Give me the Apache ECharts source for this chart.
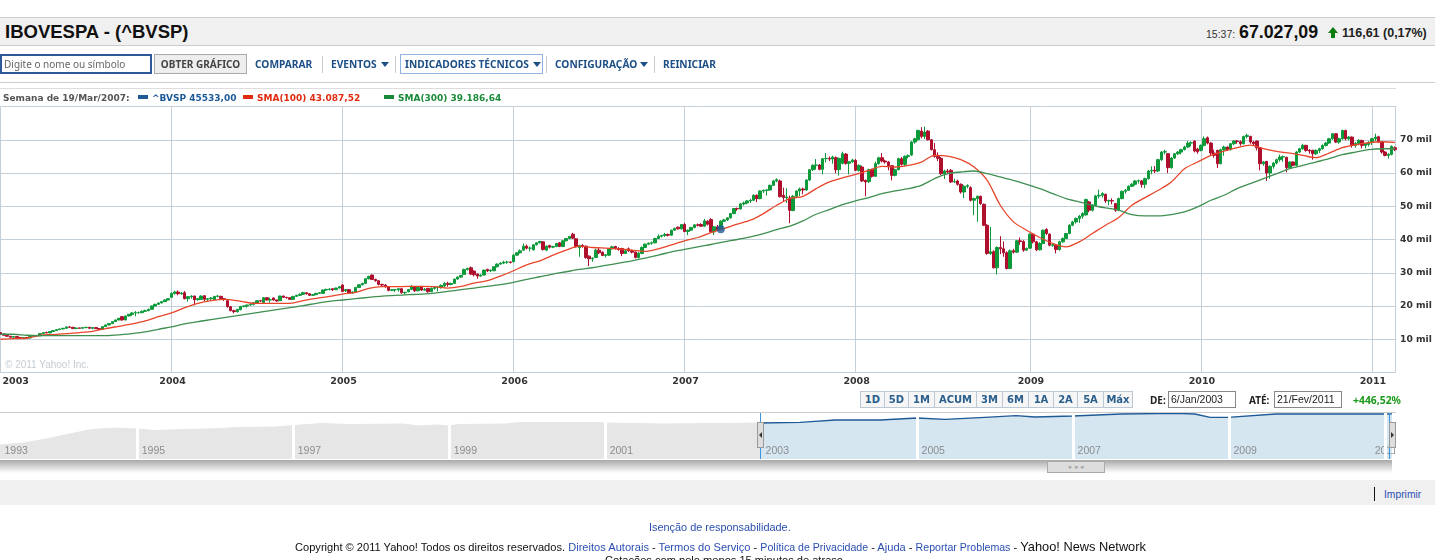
<!DOCTYPE html>
<html>
<head>
<meta charset="utf-8">
<title>IBOVESPA</title>
<script src="https://cdn.jsdelivr.net/npm/echarts@6/dist/echarts.min.js"></script>
<style>
  html, body { margin: 0; padding: 0; width: 1435px; height: 560px; overflow: hidden; background: #fff; }
  #chart { position: absolute; left: 0; top: 0; width: 1435px; height: 560px; }
  .b { position: absolute; box-sizing: border-box; }
  .t { position: absolute; white-space: nowrap; font-family: "Liberation Sans", sans-serif; }
  .nav { font: bold 10.2px "Noto Sans", sans-serif; color: #1d4f87; top: 58px; line-height: 13px; }
  .lg { font: bold 9px "DejaVu Sans", sans-serif; top: 92px; line-height: 13px; }
  .tri { position: absolute; width: 0; height: 0; border-left: 4px solid transparent; border-right: 4px solid transparent; border-top: 5px solid #1d4f87; top: 62px; }
  .sep { position: absolute; width: 1px; background: #ccc; top: 56px; height: 17px; }
  .rng { position: absolute; box-sizing: border-box; top: 391px; height: 17px; text-align: center; font: bold 10px/15px "DejaVu Sans", sans-serif; color: #2a5e8c; background: #f6f6f6; border: 1px solid #bcc8d4; }
  .inp { position: absolute; box-sizing: border-box; top: 391px; height: 17px; width: 68px; border: 1px solid #888; font: 10.5px/15px "Liberation Sans", sans-serif; padding-left: 2px; color: #222; }
  .foot { font-size: 10.9px; color: #2a4fb0; line-height: 13px; }
</style>
</head>
<body>
<div id="chart"></div>

<div class="b" style="left:0;top:17px;width:1435px;height:29px;background:#f0f0f0;border-top:1px solid #ccc;border-bottom:1px solid #ccc"></div>
<div class="t" style="left:5px;top:22px;font-size:18.5px;font-weight:bold;color:#111;line-height:20px">IBOVESPA - (^BVSP)</div>
<div class="t" style="left:1206px;top:28px;font-size:10.5px;color:#333;line-height:12px">15:37:</div>
<div class="t" style="left:1239px;top:23px;font-size:17.8px;font-weight:bold;color:#111;line-height:18px">67.027,09</div>
<div class="b" style="left:1328px;top:27px;width:0;height:0;border-left:5px solid transparent;border-right:5px solid transparent;border-bottom:6px solid #0a7d10"></div>
<div class="b" style="left:1331px;top:33px;width:4px;height:5px;background:#0a7d10"></div>
<div class="t" style="left:1342px;top:26px;font-size:12.5px;font-weight:bold;color:#222;line-height:14px">116,61 (0,17%)</div>

<div class="b" style="left:0;top:54px;width:152px;height:20px;border:2px solid #2f5a9a"></div>
<div class="t" style="left:4px;top:58px;font:10px/13px 'Noto Sans',sans-serif;color:#666">Digite o nome ou símbolo</div>
<div class="b" style="left:154px;top:54px;width:93px;height:20px;border:1px solid #aaa;background:#eee;text-align:center;font:bold 10px/18px 'Noto Sans',sans-serif;color:#444">OBTER GRÁFICO</div>
<div class="t nav" style="left:255px">COMPARAR</div>
<div class="sep" style="left:322px"></div>
<div class="t nav" style="left:331px">EVENTOS</div><div class="tri" style="left:381px"></div>
<div class="sep" style="left:395px"></div>
<div class="b" style="left:400px;top:54px;width:143px;height:20px;border:1px solid #8fb4e0"></div>
<div class="t nav" style="left:405px">INDICADORES TÉCNICOS</div><div class="tri" style="left:533px"></div>
<div class="sep" style="left:546px"></div>
<div class="t nav" style="left:555px">CONFIGURAÇÃO</div><div class="tri" style="left:640px"></div>
<div class="sep" style="left:654px"></div>
<div class="t nav" style="left:663px">REINICIAR</div>
<div class="b" style="left:0;top:82px;width:1435px;height:1px;background:#ccc"></div>

<div class="b" style="left:0;top:88px;width:1396px;height:1px;background:#ddd"></div>
<div class="t lg" style="left:3px;color:#555">Semana de 19/Mar/2007:</div>
<div class="b" style="left:138px;top:95px;width:10px;height:4px;background:#1d5a96"></div>
<div class="t lg" style="left:152px;color:#1d5a96">^BVSP 45533,00</div>
<div class="b" style="left:243px;top:95px;width:10px;height:4px;background:#e02a10"></div>
<div class="t lg" style="left:257px;color:#e02a10">SMA(100) 43.087,52</div>
<div class="b" style="left:384px;top:95px;width:10px;height:4px;background:#1a8a3a"></div>
<div class="t lg" style="left:398px;color:#1a8a3a">SMA(300) 39.186,64</div>
<div class="t" style="left:5px;top:359px;font-size:10px;color:#c4ccd2;line-height:12px">© 2011 Yahoo! Inc.</div>

<div class="rng" style="left:860px;width:25px">1D</div>
<div class="rng" style="left:884px;width:25px">5D</div>
<div class="rng" style="left:908px;width:27px">1M</div>
<div class="rng" style="left:934px;width:43px">ACUM</div>
<div class="rng" style="left:976px;width:27px">3M</div>
<div class="rng" style="left:1002px;width:27px">6M</div>
<div class="rng" style="left:1028px;width:26px">1A</div>
<div class="rng" style="left:1053px;width:25px">2A</div>
<div class="rng" style="left:1077px;width:27px">5A</div>
<div class="rng" style="left:1103px;width:30px">Máx</div>
<div class="t" style="left:1150px;top:394px;font:bold 10px/12px 'Noto Sans',sans-serif;color:#222">DE:</div>
<div class="inp" style="left:1168px">6/Jan/2003</div>
<div class="t" style="left:1249px;top:394px;font:bold 10px/12px 'Noto Sans',sans-serif;color:#222">ATÉ:</div>
<div class="inp" style="left:1274px">21/Fev/2011</div>
<div class="t" style="left:1353px;top:394px;font:bold 10.4px/12px 'Noto Sans',sans-serif;color:#1a9a1a">+446,52%</div>

<div class="b" style="left:0;top:412px;width:1396px;height:1px;background:#ccc"></div>
<div class="b" style="left:1395px;top:413px;width:40px;height:47px;background:#fff"></div>
<div class="b" style="left:757px;top:422px;width:7px;height:26px;background:#ddd;border:1px solid #999"></div>
<div class="b" style="left:759px;top:432px;width:0;height:0;border-top:3px solid transparent;border-bottom:3px solid transparent;border-right:3px solid #333"></div>
<div class="b" style="left:1389px;top:422px;width:7px;height:26px;background:#ddd;border:1px solid #999"></div>
<div class="b" style="left:1391px;top:432px;width:0;height:0;border-top:3px solid transparent;border-bottom:3px solid transparent;border-left:3px solid #333"></div>
<div class="b" style="left:0;top:460px;width:1392px;height:13px;background:linear-gradient(#a8a8a8,#fff)"></div>
<div class="b" style="left:1047px;top:461px;width:58px;height:12px;background:#ddd;border:1px solid #aaa;text-align:center;font:7px/10px 'Liberation Sans',sans-serif;color:#aaa">● ● ●</div>

<div class="b" style="left:0;top:480px;width:1435px;height:25px;background:#f0f0f0"></div>
<div class="b" style="left:1374px;top:487px;width:1px;height:14px;background:#111"></div>
<div class="t foot" style="left:1384px;top:488px;font-size:10.3px">Imprimir</div>
<div class="t foot" style="left:649px;top:521px">Isenção de responsabilidade.</div>
<div class="t foot" style="left:295px;top:540px;color:#111;font-size:11.1px">Copyright © 2011 Yahoo! Todos os direitos reservados. <span style="color:#2a4fb0">Direitos Autorais</span> - <span style="color:#2a4fb0">Termos do Serviço</span> - <span style="color:#2a4fb0;font-size:10.6px">Política de Privacidade</span> - <span style="color:#2a4fb0">Ajuda</span> - <span style="color:#2a4fb0;font-size:10.6px">Reportar Problemas</span> - <span style="font-size:12.8px">Yahoo! News Network</span></div>
<div class="t foot" style="left:605px;top:554px;color:#111;font-size:11.1px">Cotações com pelo menos 15 minutos de atraso.</div>

<script>
// weekly candles, [open, close, low, high] in thousands of points
const candles2003 = [[12.0,11.6,11.4,12.1],[11.6,11.2,11.1,11.7],[11.2,10.9,10.8,11.3],[10.9,10.6,10.5,11.0],[10.6,10.8,10.4,10.9],[10.8,10.5,10.4,10.9],[10.5,10.3,10.2,10.6],[10.3,10.5,10.2,10.6],[10.5,10.4,10.3,10.7],[10.4,10.9,10.3,11.0],[10.9,11.1,10.8,11.2],[11.1,11.0,10.9,11.3],[11.0,11.7,11.0,11.9],[11.7,12.0,11.6,12.2],[12.0,11.9,11.8,12.3],[11.9,12.3,11.9,12.4],[12.3,12.6,12.2,12.7],[12.6,12.9,12.5,13.0],[12.9,13.1,12.8,13.2],[13.1,13.3,13.0,13.4],[13.3,13.7,13.2,13.8],[13.7,13.6,13.4,13.9],[13.6,13.2,13.1,13.7],[13.2,13.4,13.1,13.5],[13.4,13.3,13.2,13.5],[13.3,13.5,13.2,13.6],[13.5,13.6,13.3,13.7],[13.6,13.3,13.2,13.7],[13.3,13.5,13.0,13.6],[13.5,13.2,13.1,13.6],[13.2,13.0,12.9,13.3],[13.0,13.8,12.9,13.9],[13.8,14.3,13.7,14.4],[14.3,14.7,14.2,14.8],[14.7,15.3,14.6,15.4],[15.3,15.8,15.2,15.9],[15.8,16.3,15.7,16.4],[16.8,15.8,15.6,17.0],[15.8,17.0,15.7,17.1],[17.0,17.5,16.9,17.6],[17.5,17.9,17.0,18.2],[17.9,18.0,16.9,18.5],[18.0,18.0,17.6,18.3],[18.0,18.4,17.8,18.6],[18.4,18.6,18.2,18.9],[18.6,19.0,18.4,19.2],[19.0,20.0,18.9,20.1],[20.0,20.5,19.9,20.7],[20.5,20.9,20.4,21.1],[20.9,21.3,20.8,21.5],[21.3,21.8,21.2,22.0],[21.8,22.2,21.7,22.4]];
const candles2004 = [[22.6,23.8,22.4,24.1],[23.8,24.2,23.4,24.6],[24.2,23.7,23.2,24.7],[23.7,23.9,23.3,24.2],[24.0,22.2,22.0,24.5],[22.2,22.8,21.3,23.0],[22.8,23.0,22.2,23.2],[23.0,21.9,20.2,23.1],[21.9,22.2,21.6,22.4],[22.0,23.0,21.8,23.2],[23.1,22.0,21.5,23.2],[22.0,22.2,21.3,22.4],[22.2,22.4,21.6,22.7],[21.9,22.9,21.8,23.0],[22.9,23.0,22.6,23.3],[22.9,22.2,21.9,23.1],[22.2,22.0,21.5,22.4],[21.6,19.8,19.5,21.8],[19.8,18.6,18.4,20.0],[18.6,18.3,17.8,18.9],[18.3,19.0,18.0,19.1],[18.9,19.9,18.7,20.0],[19.9,20.0,19.6,20.2],[20.0,20.3,19.5,20.4],[20.3,20.5,20.1,20.7],[20.5,21.0,20.2,21.2],[20.8,21.6,20.6,21.7],[21.6,21.5,21.2,21.8],[21.0,22.5,20.9,22.7],[22.5,21.8,21.6,22.6],[21.8,21.9,21.0,22.5],[22.4,21.8,21.6,22.6],[21.8,21.5,21.3,21.9],[21.6,23.0,21.5,23.1],[23.0,22.6,22.4,23.1],[22.6,22.5,22.2,22.8],[22.5,22.0,21.9,22.6],[22.0,22.9,21.8,23.0],[22.9,23.2,22.8,23.4],[23.2,23.5,23.0,23.8],[23.5,24.0,23.3,24.3],[24.0,23.7,23.4,24.2],[23.7,23.2,23.0,23.8],[23.2,23.4,23.0,23.6],[23.4,23.8,23.3,24.0],[23.8,24.0,23.6,24.1],[23.8,24.8,23.7,25.0],[24.8,25.0,24.6,25.2],[25.0,25.1,24.7,25.3],[25.2,24.9,24.5,25.4],[24.9,25.4,24.8,25.5],[25.4,25.8,25.3,25.9]];
const candles2005 = [[26.3,24.4,24.2,26.6],[24.6,24.9,24.2,25.0],[24.9,23.9,23.6,25.1],[23.9,24.2,23.7,24.4],[24.2,25.6,24.1,25.7],[25.6,26.4,25.5,26.5],[26.4,26.8,26.2,27.0],[26.8,28.2,26.6,28.4],[28.2,28.9,28.0,29.1],[29.3,28.0,27.8,29.5],[28.0,27.6,27.3,28.2],[27.6,26.5,26.2,27.8],[26.5,26.3,25.8,26.7],[26.3,25.8,25.5,26.6],[25.8,24.7,24.4,26.0],[24.7,24.9,24.5,25.0],[24.9,24.9,24.2,25.1],[24.9,25.2,24.3,25.3],[25.2,24.0,23.7,25.4],[24.0,24.1,23.5,24.3],[24.3,25.0,24.1,25.1],[25.0,25.8,24.8,26.3],[25.8,24.6,24.2,26.0],[24.6,25.6,24.4,25.8],[25.9,24.8,24.5,26.0],[24.8,25.0,24.6,25.4],[25.3,24.3,24.0,25.4],[24.3,25.3,24.2,25.6],[25.3,25.6,24.9,25.9],[25.6,25.6,24.4,26.0],[25.6,26.2,25.2,26.5],[26.0,26.8,25.6,27.2],[26.8,26.5,25.8,27.3],[26.5,26.8,26.2,27.0],[26.8,28.1,26.6,28.2],[28.1,28.7,27.9,28.9],[28.7,29.2,28.4,29.4],[29.5,31.0,29.3,31.2],[31.0,31.3,30.7,31.5],[31.5,29.6,29.3,31.9],[30.5,29.4,28.9,30.7],[29.6,29.0,28.2,29.8],[29.0,29.3,28.8,29.5],[29.3,30.8,29.2,30.9],[31.0,30.6,30.2,31.2],[30.6,30.8,30.2,31.0],[30.6,31.8,30.5,31.9],[31.8,32.6,31.6,32.8],[32.6,32.9,32.4,33.1],[32.9,33.2,32.6,33.6],[33.2,33.2,32.7,33.6],[33.2,33.1,32.8,33.5]];
const candles2006 = [[33.3,35.3,33.1,35.6],[35.3,36.0,35.1,36.1],[36.0,36.6,35.8,37.0],[36.8,38.0,36.6,38.8],[38.0,37.4,37.0,38.5],[37.4,37.4,36.4,37.9],[36.9,38.4,36.7,38.6],[38.4,39.0,38.2,39.2],[39.0,39.4,38.8,39.6],[39.3,37.0,36.7,39.5],[36.8,38.0,36.5,38.2],[38.2,37.7,37.3,38.4],[37.7,37.9,37.4,38.1],[37.9,38.8,37.7,39.0],[39.0,37.9,37.7,39.2],[37.9,39.6,37.7,39.8],[39.6,40.3,39.4,40.4],[40.3,40.9,40.1,41.1],[41.6,40.4,40.2,42.0],[40.2,37.8,37.6,40.4],[37.5,38.2,34.8,38.4],[38.2,38.0,37.5,38.6],[38.0,34.6,34.2,38.2],[35.0,34.2,32.0,35.2],[34.2,34.4,33.3,34.6],[34.6,36.8,34.4,37.2],[36.8,36.0,35.6,37.6],[36.2,35.2,35.0,36.4],[35.2,35.4,34.6,35.6],[35.3,37.2,35.1,37.3],[37.2,37.8,37.0,38.1],[37.9,37.2,37.0,38.1],[37.2,37.0,36.6,37.7],[37.3,35.8,35.0,37.5],[35.8,36.6,35.6,36.8],[37.2,36.6,36.3,37.6],[36.6,36.2,35.8,36.9],[36.2,34.6,34.3,36.4],[34.6,35.9,34.3,36.2],[35.8,37.6,35.6,37.9],[37.6,38.6,37.4,38.8],[38.6,38.9,38.3,39.1],[38.9,39.0,38.4,39.4],[39.0,40.3,38.8,40.5],[40.3,41.0,40.1,41.5],[41.0,41.2,40.6,41.4],[41.2,41.5,40.8,42.0],[41.5,41.3,40.9,41.8],[41.3,42.8,41.1,43.0],[42.8,43.3,42.6,43.6],[43.7,43.2,43.0,43.9],[43.2,44.5,43.0,44.6]];
const candles2007 = [[44.5,42.4,42.2,45.0],[42.4,42.8,41.3,43.0],[42.8,43.6,42.6,43.8],[43.6,44.4,43.4,44.6],[44.4,44.3,43.9,44.8],[44.5,44.0,43.8,44.9],[44.0,45.6,43.9,46.2],[45.5,44.6,44.2,45.8],[46.0,42.3,42.0,46.4],[42.3,43.8,41.4,44.0],[43.8,42.9,42.6,44.4],[43.2,45.5,43.0,45.8],[45.5,45.9,45.3,46.2],[45.9,46.5,45.6,46.7],[46.5,47.8,46.3,48.0],[47.8,49.3,47.6,49.4],[49.3,49.2,48.6,49.6],[49.2,50.7,49.0,51.0],[50.7,51.0,50.2,51.4],[51.0,51.6,50.6,51.9],[51.6,51.8,51.0,52.2],[51.8,53.3,51.6,53.6],[53.3,52.3,51.2,53.5],[52.3,54.6,52.1,54.8],[54.6,54.8,54.0,55.0],[54.8,54.9,53.2,55.0],[54.9,56.3,54.7,56.5],[56.3,57.6,56.1,57.9],[57.6,58.0,57.2,58.4],[57.6,52.9,52.6,58.0],[53.3,52.6,51.5,55.6],[52.6,52.8,51.0,55.4],[52.5,48.8,44.9,53.2],[48.7,53.0,48.5,53.4],[53.0,54.6,52.8,54.8],[54.6,55.2,53.0,55.6],[55.2,54.9,53.6,55.6],[54.9,57.9,54.6,58.1],[57.9,61.0,57.6,61.2],[61.0,62.3,60.6,62.6],[62.3,62.4,61.0,64.2],[62.4,61.1,60.8,62.7],[61.1,64.3,59.6,64.5],[64.3,64.4,63.2,66.0],[64.4,64.2,63.6,65.0],[64.2,64.8,62.8,65.2],[64.6,61.0,59.9,65.0],[61.0,64.4,59.2,64.6],[62.9,65.8,62.6,66.4],[65.7,62.9,62.5,66.0],[62.9,63.4,59.6,63.6],[63.4,63.9,63.0,64.3]];
const candles2008 = [[63.8,60.8,60.6,64.2],[60.8,62.3,60.4,62.6],[61.8,57.6,57.3,62.2],[57.8,57.3,53.0,58.0],[57.4,61.0,57.0,61.3],[61.0,59.0,58.6,61.3],[59.0,62.8,58.8,63.4],[62.8,64.6,62.5,64.9],[64.6,63.6,63.2,66.0],[63.6,63.3,62.8,64.0],[63.3,62.2,60.8,63.6],[62.2,59.3,57.8,62.4],[59.3,61.0,59.0,61.3],[61.0,64.3,60.8,64.6],[64.3,62.6,62.2,64.8],[62.6,65.0,62.0,65.3],[65.0,65.2,64.4,65.6],[65.4,69.3,65.2,69.6],[69.3,70.3,68.8,70.6],[70.0,72.8,69.8,73.0],[72.6,71.0,70.4,73.8],[71.0,72.3,70.2,74.0],[72.6,70.0,69.8,72.9],[70.0,67.0,66.8,70.2],[67.0,65.0,64.6,69.0],[65.0,64.4,63.6,66.2],[64.4,59.8,59.4,64.8],[59.8,60.6,58.2,61.0],[60.6,60.3,59.6,61.2],[60.8,57.3,57.0,61.2],[57.3,57.4,57.0,58.3],[57.6,56.6,56.2,58.0],[56.6,54.3,53.8,56.9],[54.3,56.0,52.4,56.3],[56.0,56.2,55.4,56.6],[55.6,51.8,51.4,56.0],[51.8,52.3,47.3,52.6],[52.3,53.0,45.3,53.2],[53.0,50.8,50.4,53.2],[50.6,44.3,44.0,50.8],[44.3,35.8,35.4,44.6],[35.8,36.3,35.4,43.8],[36.3,31.5,31.3,36.8],[31.5,37.6,29.5,37.9],[37.6,37.2,35.6,41.0],[37.2,36.0,34.8,39.4],[36.0,31.3,31.0,36.4],[31.3,36.6,31.1,37.0],[36.6,36.2,35.8,37.2],[36.2,39.6,36.0,39.8],[39.6,39.4,38.4,40.6],[39.4,36.8,36.3,39.8],[36.8,37.3,36.6,37.6]];
const candles2009 = [[37.4,41.6,37.2,41.9],[41.6,39.3,38.8,41.9],[39.3,36.9,36.5,39.6],[36.9,38.8,36.7,39.2],[38.8,42.8,38.6,43.0],[43.0,41.8,41.3,43.4],[41.6,38.3,37.9,41.9],[38.3,38.4,37.8,38.9],[38.3,37.0,35.8,38.5],[37.0,39.3,36.6,39.6],[39.3,40.3,39.0,40.6],[40.3,41.8,40.1,42.0],[41.8,44.3,41.6,44.6],[44.3,45.3,44.0,45.6],[45.3,46.3,44.8,46.6],[46.3,47.0,45.0,47.4],[47.0,47.8,46.3,48.2],[47.4,52.0,47.2,52.3],[51.3,48.8,48.2,51.6],[48.8,50.3,48.4,50.6],[50.3,53.1,50.0,53.4],[53.1,53.3,52.4,55.0],[53.3,53.8,52.6,54.2],[53.6,51.6,51.0,53.8],[51.6,51.7,50.3,52.0],[51.7,51.6,50.6,52.4],[50.8,48.8,48.3,51.0],[48.8,52.3,48.5,52.6],[52.3,54.5,52.1,54.7],[54.5,54.8,53.8,55.2],[54.8,56.0,54.6,56.3],[56.0,56.6,55.8,57.0],[56.6,57.6,56.2,57.9],[57.6,57.7,56.8,58.0],[57.6,56.6,55.6,57.9],[56.6,58.3,55.4,58.6],[58.3,60.6,58.0,60.9],[60.6,60.8,59.6,62.0],[60.8,60.6,60.0,62.1],[60.6,64.0,60.3,64.3],[64.0,66.3,63.6,66.6],[66.3,66.4,65.6,67.0],[65.8,61.6,60.0,66.0],[61.6,64.5,61.3,64.8],[64.5,65.8,64.2,66.0],[65.8,66.3,65.4,66.6],[66.3,67.0,65.6,67.3],[67.0,67.8,66.8,68.2],[67.8,69.0,67.5,69.6],[69.0,69.1,68.0,69.5],[69.6,66.6,66.2,69.8],[67.2,66.4,65.8,67.6]];
const candles2010 = [[66.8,68.3,66.5,68.6],[68.3,70.3,68.0,71.0],[70.6,69.0,68.6,71.0],[69.0,66.0,65.2,69.3],[66.0,65.3,64.6,67.0],[66.8,62.8,61.5,67.0],[62.8,67.0,62.6,67.3],[67.0,67.8,65.2,68.2],[67.8,67.0,66.6,68.0],[67.0,68.8,66.8,69.0],[68.8,69.6,68.4,69.9],[69.6,69.5,68.8,69.9],[69.4,68.8,68.2,69.8],[68.8,71.0,68.6,71.2],[71.0,71.3,70.4,71.8],[71.0,69.3,68.8,71.2],[69.3,68.8,68.2,69.6],[69.6,67.6,66.8,69.8],[67.6,62.8,60.8,67.8],[62.8,63.3,62.2,63.6],[63.5,60.0,57.6,63.6],[60.0,62.0,58.3,62.3],[62.0,63.0,61.3,63.3],[63.0,64.0,62.6,64.3],[64.0,64.8,63.4,65.5],[64.8,64.9,63.4,65.2],[64.7,61.6,60.2,64.9],[61.6,63.3,61.2,63.5],[63.3,62.3,62.0,63.5],[62.3,66.3,62.0,66.6],[66.3,67.3,66.0,67.6],[67.3,68.3,67.0,68.8],[68.3,66.8,66.4,68.5],[66.8,66.6,65.8,67.2],[66.8,65.8,64.0,67.0],[65.8,66.8,65.4,67.1],[66.8,67.3,66.0,67.6],[67.3,68.3,67.0,68.6],[68.3,69.0,68.0,69.3],[69.0,70.3,68.8,70.6],[70.3,71.8,70.0,72.0],[71.8,69.3,69.0,72.0],[69.3,70.3,68.8,70.6],[70.3,72.8,70.0,73.0],[72.8,70.3,69.8,73.0],[70.3,70.8,69.8,71.1],[70.8,68.3,67.6,71.0],[68.3,68.9,67.6,69.3],[68.9,69.8,68.3,70.2],[69.8,68.3,67.4,70.0],[68.3,68.8,67.4,69.0],[68.6,69.2,68.0,69.6]];
const candles2011 = [[69.2,70.3,68.4,70.6],[70.3,70.8,69.6,71.8],[70.9,69.3,69.0,71.2],[69.3,66.3,65.8,69.5],[66.3,65.3,65.0,66.6],[65.3,65.6,64.3,66.0],[65.6,68.0,65.3,68.3],[67.6,67.0,66.6,68.0]];
const yearLabels = ['2003', '2004', '2005', '2006', '2007', '2008', '2009', '2010', '2011'];
const candlesByYear = [candles2003, candles2004, candles2005, candles2006, candles2007, candles2008, candles2009, candles2010, candles2011];

// moving averages, read every 4th week, in thousands
const smaStep = 4;
const sma100 = [10,10.2,10.3,11.2,11.4,11.7,12,12.4,13.2,13.9,14.6,15.5,16.8,17.9,19.5,20.8,21.6,22,21.6,20.9,20.8,20.8,20.8,21.6,22.3,22.9,23.6,24.1,25.3,25.8,25.8,25.9,25.9,25.8,25.4,25.9,26.9,27.6,29,30.6,32.4,33.6,35.3,36.8,38,37.6,37.4,37.2,36.8,36.4,37.2,38.4,39.6,40.6,42.1,43.3,44.6,45.8,47.8,50.3,52.3,53,55.3,57.3,58.5,59.6,60.8,62,61.8,62.3,63.3,65.3,65.1,64,61.8,57.8,50.3,45.3,42.8,40.6,38.8,37.8,39.3,41.8,44.3,46.6,50.3,52.6,54.8,57.3,61.3,63.3,65.3,66.6,67.6,68.4,67.3,66.5,66,65.3,64.6,66,67.6,68.5,69.1,69.4,69.2];
const sma300 = [11.5,11.5,11.2,11.1,11.1,11.1,11.1,11.1,11.1,11.3,11.7,12.2,13,13.7,14.6,15.3,15.9,16.5,17.1,17.7,18.3,18.9,19.5,20.1,20.8,21.4,21.8,22.2,22.6,23,23.2,23.4,23.6,23.9,24.4,24.9,25.4,25.9,26.4,27.1,28,28.8,29.6,30.3,31,31.5,32.2,32.9,33.6,34.4,35.3,36.3,37,37.8,38.5,39.3,40,40.8,41.8,43,44,45.6,47.6,49,50.5,51.6,52.6,53.8,54.6,55.3,56.3,58.3,59.8,60.3,60.6,59.8,58.8,57.8,56.6,55.3,53.8,52.3,51.3,50.3,49.5,48.8,47.5,47.1,47.1,47.5,48.3,49.8,51.8,53.3,55.3,56.8,58.3,59.8,61.3,62.3,63.3,64.3,65.5,66.3,67,67.3,67.3];

// highlighted week, 19/Mar/2007
const markerWeek = 219;
const markerValue = 43087.52;

const yAxisMax = 80000;
const yAxisInterval = 10000;

// navigator, year and index level (plotted as log10 of the level)
const navGreyYears = [1993.24,1993.54,1993.83,1994.13,1994.42,1994.72,1994.99,1995.24,1995.6,1995.9,1996.31,1996.77,1997.01,1997.36,1997.72,1998.42,1998.6,1998.83,1998.99,1999.13,1999.72,1999.9,2000.9,2001.01,2001.72,2002.47,2002.99];
const navGreyValues = [129,191,424,1143,2793,3760,3086,2290,2793,3086,4160,4590,6180,9190,7540,8320,5600,6830,5600,7540,8320,11200,11200,10150,8320,9190,10150];
const navBlueYears = [2002.99,2003.5,2003.69,2003.95,2004.53,2005,2005.36,2005.87,2006.27,2006.51,2007,2007.62,2008.32,2008.56,2008.76,2008.99,2009.6,2011.01,2011.09];
const navBlueValues = [10150,11700,14200,18400,18400,27400,21200,31500,43200,33400,40700,60600,69700,60600,31500,31500,60600,60600,61000];
const navWhiteLines = [1995, 1997, 1999, 2001, 2005, 2007, 2009, 2011];
const navRangeLines = [2002.99, 2011.06];
const navLabelTexts = ['1993', '1995', '1997', '1999', '2001', '2003', '2005', '2007', '2009', '2011'];
// the first and last labels sit at the navigator's edges, not on their years
const navLabelYears = [1993.24, 1995, 1997, 1999, 2001, 2003, 2005, 2007, 2009, 2010.81];
const navLabelLevel = 39;
const navMin = 8;
const navMax = 74000;

const candles = candlesByYear.flat().map(c => c.map(v => v * 1000));
const categories = candlesByYear.flatMap((list, y) => list.map((c, i) => i === 0 ? yearLabels[y] : yearLabels[y] + '-' + i));
const smaPoints = list => list.map((v, i) => [i * smaStep, v * 1000]);

const gridColor = '#c3cfd9';

const chart = echarts.init(document.getElementById('chart'));
chart.setOption({
  animation: false,
  grid: [
    { left: 0.5, top: 106.5, width: 1394.5, height: 266, outerBoundsMode: 'none' },
    { left: 0, top: 413, width: 1392, height: 46, outerBoundsMode: 'none' },
  ],
  xAxis: [
    {
      type: 'category',
      data: categories,
      boundaryGap: false,
      containShape: false,
      axisLine: { show: false },
      axisTick: { show: false },
      splitLine: {
        show: true,
        interval: (i, v) => yearLabels.includes(v),
        lineStyle: { color: gridColor, width: 1 },
      },
      axisLabel: {
        interval: (i, v) => yearLabels.includes(v),
        hideOverlap: false,
        alignMinLabel: 'left',
        margin: 4,
        padding: [0, 0, 0, 2],
        color: '#333',
        fontFamily: 'DejaVu Sans',
        fontWeight: 'bold',
        fontSize: 9.5,
      },
    },
    { type: 'value', gridIndex: 1, min: 1993.24, max: 2011.09, show: false, splitLine: { show: false } },
  ],
  yAxis: [
    {
      type: 'value',
      position: 'right',
      min: 0,
      max: yAxisMax,
      interval: yAxisInterval,
      axisLine: { show: true, lineStyle: { color: gridColor } },
      axisTick: { show: false },
      splitLine: { show: true, lineStyle: { color: gridColor, width: 1 } },
      axisLabel: {
        margin: 5,
        color: '#333',
        fontFamily: 'DejaVu Sans',
        fontWeight: 'bold',
        fontSize: 9.2,
        formatter: v => (v === 0 || v === yAxisMax) ? '' : (v / 1000) + ' mil',
      },
    },
    { type: 'value', gridIndex: 1, min: Math.log10(navMin), max: Math.log10(navMax), show: false, splitLine: { show: false } },
  ],
  series: [
    {
      name: '^BVSP',
      type: 'candlestick',
      data: candles,
      barWidth: 3,
      itemStyle: {
        color: '#0c9a3a',
        color0: '#ae0f2d',
        borderColor: '#0c9a3a',
        borderColor0: '#ae0f2d',
        borderWidth: 1,
      },
    },
    {
      name: 'SMA(100)',
      type: 'line',
      data: smaPoints(sma100),
      showSymbol: false,
      smooth: 0.3,
      lineStyle: { color: '#e8452a', width: 1.3 },
    },
    {
      name: 'SMA(300)',
      type: 'line',
      data: smaPoints(sma300),
      showSymbol: false,
      smooth: 0.3,
      lineStyle: { color: '#3f8f50', width: 1.3 },
    },
    {
      name: 'marker',
      type: 'scatter',
      data: [[markerWeek, markerValue]],
      symbolSize: 8,
      z: 10,
      itemStyle: { color: '#1f5a96' },
    },
    {
      name: 'nav-grey',
      type: 'line',
      xAxisIndex: 1,
      yAxisIndex: 1,
      data: navGreyYears.map((y, i) => [y, Math.log10(navGreyValues[i])]),
      showSymbol: false,
      lineStyle: { color: '#e6e6e6', width: 1 },
      areaStyle: { color: '#e6e6e6', origin: 'start', opacity: 1 },
    },
    {
      name: 'nav-blue',
      type: 'line',
      xAxisIndex: 1,
      yAxisIndex: 1,
      data: navBlueYears.map((y, i) => [y, Math.log10(navBlueValues[i])]),
      showSymbol: false,
      lineStyle: { color: '#1d5a96', width: 1.3 },
      areaStyle: { color: '#d6e6f1', origin: 'start', opacity: 1 },
      markLine: {
        silent: true,
        symbol: 'none',
        animation: false,
        label: { show: false },
        data: [
          ...navWhiteLines.map(y => ({ xAxis: y, lineStyle: { color: '#fff', width: 3, type: 'solid' } })),
          ...navRangeLines.map(y => ({ xAxis: y, lineStyle: { color: '#3d94de', width: 1, type: 'solid' } })),
        ],
      },
    },
    {
      name: 'nav-labels',
      type: 'scatter',
      xAxisIndex: 1,
      yAxisIndex: 1,
      data: navLabelYears.map(y => [y, Math.log10(navLabelLevel)]),
      symbolSize: 1,
      itemStyle: { color: 'transparent' },
      z: 4,
      label: {
        show: true,
        position: 'right',
        distance: 4,
        color: '#777',
        fontFamily: 'Liberation Sans',
        fontSize: 10.5,
        formatter: p => navLabelTexts[p.dataIndex],
      },
    },
  ],
});
</script>
</body>
</html>
